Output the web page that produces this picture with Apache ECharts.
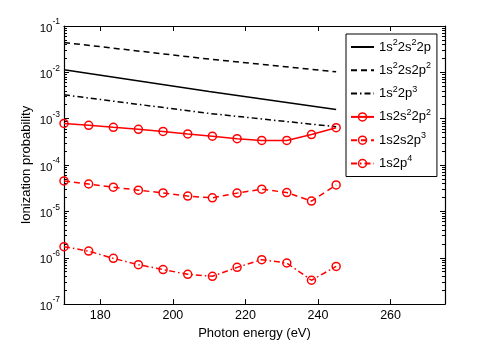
<!DOCTYPE html>
<html>
<head>
<meta charset="utf-8">
<script src="https://cdn.jsdelivr.net/npm/echarts@6/dist/echarts.min.js"></script>
<style>
  html, body { margin: 0; padding: 0; background: #fff; }
  #main { width: 491px; height: 345px; }
</style>
</head>
<body>
<div id="main"></div>
<script>
// photon energies (eV) of the computed points
var energy = [170, 176.8, 183.6, 190.5, 197.3, 204.1, 210.9, 217.7, 224.5, 231.4, 238.2, 245];
// the black curves are straight on the log scale, read at three energies
var energyK = [170, 210, 245];

// K-shell filled configurations
var p_1s2_2s2_2p = [1.14e-2, 3.85e-3, 1.58e-3];
var p_1s2_2s_2p2 = [4.4e-2, 1.93e-2, 1.03e-2];
var p_1s2_2p3 = [3.27e-3, 1.3e-3, 6.7e-4];
// hollow (K-shell vacancy) configurations
var p_1s_2s2_2p2 = [7.9e-4, 7.2e-4, 6.5e-4, 5.9e-4, 5.3e-4, 4.7e-4, 4.2e-4, 3.7e-4, 3.4e-4, 3.4e-4, 4.55e-4, 6.4e-4];
var p_1s_2s_2p3 = [4.54e-5, 3.9e-5, 3.33e-5, 2.87e-5, 2.51e-5, 2.14e-5, 1.96e-5, 2.48e-5, 3.02e-5, 2.55e-5, 1.67e-5, 3.73e-5];
var p_1s_2p4 = [1.73e-6, 1.39e-6, 9.7e-7, 7.1e-7, 5.55e-7, 4.4e-7, 3.98e-7, 6.2e-7, 9.1e-7, 7.7e-7, 3.27e-7, 6.5e-7];

var names = ['1s2 2s2 2p', '1s2 2s 2p2', '1s2 2p3', '1s 2s2 2p2', '1s 2s 2p3', '1s 2p4'];
// legend text with superscripts
var legendText = {
    '1s2 2s2 2p': '1s{s|2}2s{s|2}2p',
    '1s2 2s 2p2': '1s{s|2}2s2p{s|2}',
    '1s2 2p3': '1s{s|2}2p{s|3}',
    '1s 2s2 2p2': '1s2s{s|2}2p{s|2}',
    '1s 2s 2p3': '1s2s2p{s|3}',
    '1s 2p4': '1s2p{s|4}'
};

var xTicks = [180, 200, 220, 240, 260];
var yMajor = [1e-7, 1e-6, 1e-5, 1e-4, 1e-3, 1e-2, 1e-1];
var yMinor = [];
for (var e = -7; e < -1; e++) {
    for (var m = 2; m <= 9; m++) {
        yMinor.push(m * Math.pow(10, e));
    }
}

function pairs(xs, ys) {
    return xs.map(function (x, i) { return [x, ys[i]]; });
}

var FONT = 'Liberation Sans';
var RED = '#ff0000';
var NOFILL = 'rgba(255,255,255,0)';
var DASH = [6, 4];
var DASHDOT = [6, 3, 1.5, 3];

var chart = echarts.init(document.getElementById('main'));

function blackLine(name, data, type) {
    return {
        name: name, type: 'line', data: data,
        xAxisIndex: 0, yAxisIndex: 0,
        showSymbol: false, symbol: 'none', silent: true,
        lineStyle: {color: '#000', width: 1.5, type: type},
        itemStyle: {color: '#000'}
    };
}

function redLine(name, data, type) {
    return {
        name: name, type: 'line', data: data,
        xAxisIndex: 0, yAxisIndex: 0,
        symbol: 'circle', symbolSize: 8, silent: true,
        lineStyle: {color: RED, width: 1.5, type: type},
        itemStyle: {color: NOFILL, borderColor: RED, borderWidth: 1.5}
    };
}

var hiddenY = {
    type: 'log', logBase: 10, min: 1e-7, max: 1e-1,
    axisLine: {show: false}, axisLabel: {show: false}, splitLine: {show: false}
};

// black entries: line only, no marker in the legend
var legendData = names.map(function (n, i) {
    if (i < 3) {
        return {name: n, itemStyle: {color: NOFILL, borderColor: NOFILL, borderWidth: 0}};
    }
    return {name: n, itemStyle: {color: NOFILL, borderColor: RED, borderWidth: 1.5}};
});

option = {
    animation: false,
    textStyle: {fontFamily: FONT},
    grid: {left: 64, right: 46, top: 26, bottom: 39},
    legend: {
        data: legendData,
        orient: 'vertical',
        left: 346, top: 34,
        padding: [4, 6, 4, 4],
        itemGap: 5.3,
        itemWidth: 23, itemHeight: 10,
        borderColor: '#000', borderWidth: 1,
        backgroundColor: '#fff',
        formatter: function (n) { return legendText[n]; },
        textStyle: {
            fontFamily: FONT, fontSize: 13, color: '#000', lineHeight: 18,
            rich: {
                s: {fontFamily: FONT, fontSize: 9, color: '#000', verticalAlign: 'top', lineHeight: 10}
            }
        }
    },
    xAxis: [{
        type: 'value', min: 170, max: 275,
        name: 'Photon energy (eV)', nameLocation: 'middle', nameGap: 18,
        nameTextStyle: {fontFamily: FONT, fontSize: 13, color: '#000'},
        axisLine: {lineStyle: {color: '#000', width: 1.2}},
        axisTick: {inside: true, length: 5, customValues: xTicks, lineStyle: {color: '#000'}},
        axisLabel: {customValues: xTicks, fontFamily: FONT, fontSize: 12.5, color: '#000', margin: 5},
        splitLine: {show: false}
    }, {
        type: 'value', min: 170, max: 275, position: 'top',
        axisLine: {onZero: false, lineStyle: {color: '#000', width: 1.2}},
        axisTick: {inside: true, length: 5, customValues: xTicks, lineStyle: {color: '#000'}},
        axisLabel: {show: false},
        splitLine: {show: false}
    }],
    yAxis: [{
        type: 'log', logBase: 10, min: 1e-7, max: 1e-1, position: 'left',
        name: 'Ionization probability', nameLocation: 'middle', nameGap: 31,
        nameMoveOverlap: false,
        nameTextStyle: {fontFamily: FONT, fontSize: 13, color: '#000'},
        axisLine: {lineStyle: {color: '#000', width: 1.2}},
        axisTick: {inside: true, length: 5, customValues: yMajor, lineStyle: {color: '#000'}},
        axisLabel: {
            customValues: yMajor, margin: 4,
            formatter: function (v) {
                return '{b|10}{s|' + Math.round(Math.log10(v)) + '}';
            },
            rich: {
                b: {fontFamily: FONT, fontSize: 11.5, color: '#000', verticalAlign: 'bottom', lineHeight: 17},
                s: {fontFamily: FONT, fontSize: 8.5, color: '#000', verticalAlign: 'top', lineHeight: 10}
            }
        },
        splitLine: {show: false}
    }, Object.assign({}, hiddenY, {
        position: 'left',
        axisTick: {inside: true, length: 3, customValues: yMinor, lineStyle: {color: '#000'}}
    }), Object.assign({}, hiddenY, {
        position: 'right',
        axisLine: {show: true, lineStyle: {color: '#000', width: 1.2}},
        axisTick: {inside: true, length: 5, customValues: yMajor, lineStyle: {color: '#000'}}
    }), Object.assign({}, hiddenY, {
        position: 'right',
        axisTick: {inside: true, length: 3, customValues: yMinor, lineStyle: {color: '#000'}}
    })],
    series: [
        blackLine(names[0], pairs(energyK, p_1s2_2s2_2p), 'solid'),
        blackLine(names[1], pairs(energyK, p_1s2_2s_2p2), DASH),
        blackLine(names[2], pairs(energyK, p_1s2_2p3), DASHDOT),
        redLine(names[3], pairs(energy, p_1s_2s2_2p2), 'solid'),
        redLine(names[4], pairs(energy, p_1s_2s_2p3), DASH),
        redLine(names[5], pairs(energy, p_1s_2p4), DASHDOT)
    ]
};

chart.setOption(option);
</script>
</body>
</html>
